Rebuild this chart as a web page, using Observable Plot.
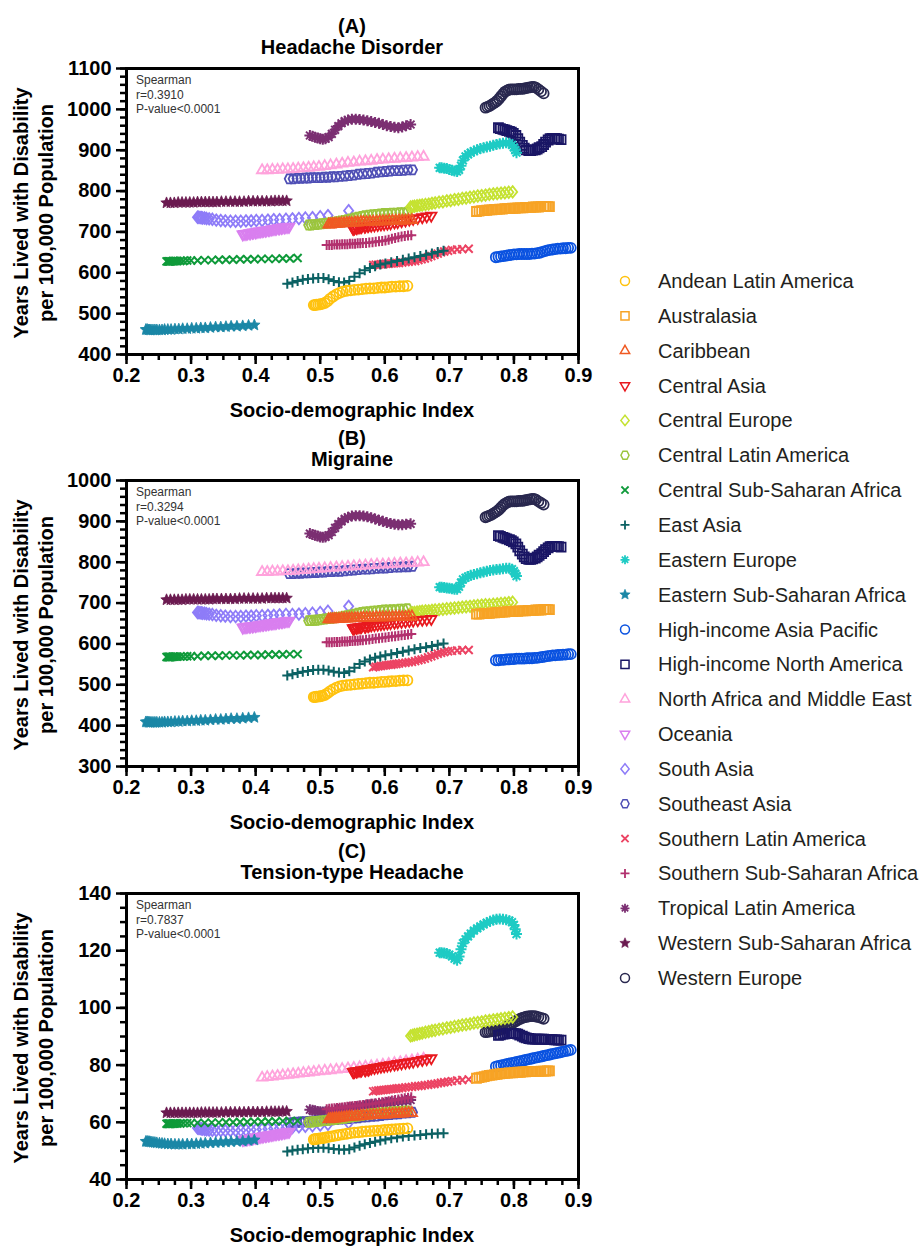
<!DOCTYPE html>
<html><head><meta charset="utf-8">
<script src="https://cdn.jsdelivr.net/npm/d3@7"></script>
<script src="https://cdn.jsdelivr.net/npm/@observablehq/plot@0.6"></script>
<style>
body{margin:0;background:#fff;font-family:"Liberation Sans",Arial,sans-serif;}
#wrap{position:relative;width:921px;height:1250px;overflow:hidden;background:#fff;}
</style></head><body><div id="wrap"></div>
<script>
// ---------- categories ----------
const regionNames = ["Andean Latin America","Australasia","Caribbean","Central Asia","Central Europe","Central Latin America","Central Sub-Saharan Africa","East Asia","Eastern Europe","Eastern Sub-Saharan Africa","High-income Asia Pacific","High-income North America","North Africa and Middle East","Oceania","South Asia","Southeast Asia","Southern Latin America","Southern Sub-Saharan Africa","Tropical Latin America","Western Sub-Saharan Africa","Western Europe"];
const regionColors = ["#FFC20E","#F7A325","#F05A23","#E8191F","#C5E231","#9BC53D","#0F9A3A","#0B6163","#1ECBC4","#1A87A6","#0A52E0","#1A1665","#FFA3DC","#D97FEF","#8E7CF8","#4F4FB5","#EC4363","#B2306E","#7B2F72","#6B1A50","#29284F"];
const regionSymbols = ["circle","square","triangle","triangleDown","diamond","hexagon","times","plus","asterisk","star","circle","square","triangle","triangleDown","diamond","hexagon","times","plus","asterisk","star","circle"];

// ---------- tick labels ----------
const xTicks = [0.2,0.3,0.4,0.5,0.6,0.7,0.8,0.9];
const yTicksHeadache = [400,500,600,700,800,900,1000,1100];
const yTicksMigraine = [300,400,500,600,700,800,900,1000];
const yTicksTTH = [40,60,80,100,120,140];
const panelLetters = ["(A)","(B)","(C)"];
const panelTitles = ["Headache Disorder","Migraine","Tension-type Headache"];
const spearmanR = ["r=0.3910","r=0.3294","r=0.7837"];

// ---------- SDI (1990-2019) ----------
const sdi_andean = [0.490,0.492,0.494,0.497,0.500,0.503,0.507,0.511,0.515,0.520,0.525,0.530,0.535,0.541,0.547,0.553,0.559,0.565,0.571,0.577,0.583,0.589,0.595,0.600,0.606,0.611,0.617,0.623,0.629,0.635];
const sdi_australasia = [0.742,0.746,0.750,0.754,0.758,0.762,0.766,0.770,0.774,0.778,0.782,0.786,0.790,0.794,0.798,0.802,0.806,0.810,0.814,0.818,0.822,0.826,0.830,0.834,0.838,0.842,0.846,0.849,0.852,0.855];
const sdi_caribbean = [0.513,0.516,0.519,0.522,0.525,0.529,0.533,0.537,0.541,0.545,0.549,0.554,0.558,0.563,0.567,0.572,0.577,0.582,0.587,0.592,0.597,0.602,0.607,0.612,0.617,0.622,0.627,0.632,0.637,0.642];
const sdi_centralAsia = [0.575,0.570,0.563,0.557,0.553,0.551,0.551,0.553,0.556,0.560,0.564,0.569,0.574,0.579,0.584,0.589,0.594,0.599,0.604,0.609,0.615,0.620,0.626,0.632,0.638,0.644,0.651,0.658,0.665,0.672];
const sdi_centralEurope = [0.640,0.643,0.646,0.650,0.654,0.658,0.663,0.668,0.673,0.678,0.684,0.690,0.696,0.702,0.708,0.714,0.720,0.726,0.732,0.738,0.744,0.750,0.756,0.762,0.768,0.774,0.780,0.786,0.792,0.798];
const sdi_centralLatAm = [0.482,0.486,0.490,0.494,0.498,0.502,0.507,0.512,0.517,0.522,0.527,0.532,0.537,0.542,0.547,0.553,0.558,0.564,0.569,0.575,0.581,0.587,0.593,0.599,0.605,0.611,0.617,0.623,0.629,0.635];
const sdi_centralSSA = [0.262,0.264,0.265,0.266,0.267,0.268,0.270,0.272,0.274,0.276,0.279,0.283,0.288,0.294,0.300,0.310,0.321,0.332,0.343,0.354,0.365,0.376,0.387,0.398,0.409,0.420,0.431,0.442,0.453,0.465];
const sdi_eastAsia = [0.449,0.457,0.465,0.473,0.481,0.489,0.497,0.505,0.513,0.521,0.529,0.537,0.545,0.553,0.561,0.569,0.577,0.585,0.593,0.601,0.610,0.619,0.628,0.637,0.646,0.655,0.664,0.673,0.682,0.691];
const sdi_easternEurope = [0.685,0.688,0.692,0.696,0.700,0.704,0.708,0.712,0.715,0.718,0.721,0.725,0.729,0.733,0.738,0.743,0.748,0.753,0.758,0.763,0.768,0.773,0.778,0.783,0.788,0.793,0.797,0.800,0.802,0.804];
const sdi_easternSSA = [0.230,0.232,0.234,0.236,0.238,0.241,0.244,0.247,0.251,0.255,0.259,0.264,0.269,0.275,0.281,0.287,0.294,0.301,0.308,0.315,0.322,0.330,0.338,0.346,0.354,0.362,0.371,0.380,0.389,0.398];
const sdi_hiAsiaPacific = [0.772,0.776,0.780,0.784,0.788,0.792,0.796,0.800,0.804,0.808,0.812,0.816,0.820,0.824,0.828,0.832,0.836,0.840,0.844,0.848,0.852,0.856,0.860,0.864,0.868,0.872,0.876,0.880,0.884,0.888];
const sdi_hiNorthAmerica = [0.776,0.779,0.783,0.786,0.789,0.793,0.796,0.799,0.803,0.806,0.809,0.813,0.816,0.819,0.823,0.826,0.829,0.833,0.836,0.839,0.843,0.846,0.849,0.853,0.856,0.859,0.863,0.866,0.869,0.873];
const sdi_nAfricaME = [0.410,0.418,0.426,0.434,0.442,0.450,0.458,0.466,0.474,0.482,0.490,0.498,0.507,0.516,0.525,0.534,0.543,0.552,0.561,0.570,0.579,0.588,0.597,0.606,0.615,0.624,0.633,0.642,0.651,0.660];
const sdi_oceania = [0.380,0.382,0.385,0.387,0.390,0.392,0.395,0.397,0.400,0.402,0.405,0.407,0.410,0.412,0.415,0.417,0.420,0.422,0.425,0.427,0.430,0.432,0.435,0.437,0.440,0.442,0.445,0.447,0.450,0.452];
const sdi_southAsia = [0.310,0.312,0.314,0.316,0.318,0.321,0.324,0.328,0.333,0.339,0.346,0.353,0.361,0.369,0.377,0.385,0.393,0.401,0.410,0.419,0.428,0.437,0.447,0.457,0.467,0.477,0.488,0.500,0.512,0.544];
const sdi_southeastAsia = [0.452,0.458,0.464,0.470,0.476,0.482,0.488,0.494,0.500,0.506,0.512,0.518,0.524,0.531,0.538,0.545,0.552,0.559,0.566,0.573,0.580,0.587,0.594,0.601,0.608,0.615,0.622,0.629,0.636,0.643];
const sdi_southernLatAm = [0.582,0.586,0.590,0.594,0.598,0.602,0.606,0.610,0.614,0.618,0.622,0.627,0.632,0.637,0.642,0.647,0.652,0.657,0.662,0.667,0.672,0.677,0.682,0.687,0.692,0.698,0.704,0.712,0.720,0.730];
const sdi_southernSSA = [0.510,0.514,0.518,0.522,0.526,0.530,0.534,0.538,0.542,0.546,0.550,0.554,0.558,0.562,0.566,0.571,0.576,0.581,0.586,0.591,0.596,0.601,0.606,0.611,0.616,0.621,0.626,0.631,0.636,0.641];
const sdi_tropicalLatAm = [0.484,0.488,0.492,0.496,0.500,0.504,0.508,0.513,0.518,0.523,0.528,0.533,0.538,0.543,0.549,0.555,0.561,0.567,0.573,0.579,0.585,0.591,0.597,0.603,0.609,0.615,0.621,0.627,0.633,0.640];
const sdi_westernSSA = [0.262,0.268,0.274,0.280,0.286,0.292,0.298,0.304,0.310,0.316,0.322,0.328,0.334,0.340,0.347,0.354,0.361,0.368,0.375,0.382,0.389,0.396,0.403,0.410,0.417,0.424,0.430,0.436,0.442,0.448];
const sdi_westernEurope = [0.756,0.759,0.762,0.765,0.768,0.771,0.774,0.777,0.780,0.783,0.786,0.789,0.792,0.795,0.798,0.801,0.804,0.807,0.810,0.813,0.816,0.819,0.822,0.825,0.828,0.831,0.834,0.838,0.842,0.846];

// ---------- (A) Headache disorder YLD ----------
const hd_andean = [521,521,522,522,523,524,526,530,536,542,547,551,554,556,557,558,559,560,561,562,562,563,564,564,565,566,566,567,567,568];
const hd_australasia = [750,751,752,752,753,754,754,755,755,756,756,757,757,757,758,758,759,759,759,760,760,760,761,761,761,762,762,762,762,762];
const hd_caribbean = [718,718,719,719,720,720,721,721,722,722,722,723,723,724,724,724,725,725,725,726,726,726,727,727,727,728,728,728,729,729];
const hd_centralAsia = [716,714,712,710,709,708,708,709,710,711,712,713,714,715,716,717,718,719,720,721,723,724,726,728,730,732,734,736,738,740];
const hd_centralEurope = [761,762,763,764,765,766,767,768,770,771,773,774,776,777,779,780,782,783,785,786,788,789,790,792,793,794,795,796,797,798];
const hd_centralLatAm = [717,717,718,718,719,720,721,722,723,724,725,727,728,730,732,734,736,738,740,741,742,743,744,745,745,746,746,747,747,748];
const hd_centralSSA = [628,628,628,628,628,628,628,629,629,629,629,629,629,630,630,630,631,631,632,632,632,633,633,633,634,634,634,635,635,636];
const hd_eastAsia = [573,576,580,583,585,586,587,587,584,580,577,576,580,590,599,606,612,616,620,623,626,629,632,635,638,641,644,647,651,654];
const hd_easternEurope = [857,857,856,855,853,851,849,848,852,862,875,885,890,894,898,901,904,906,908,910,912,914,916,917,918,917,913,907,900,894];
const hd_easternSSA = [461,461,460,460,460,460,460,460,460,460,461,461,461,462,462,463,463,464,464,465,465,466,467,467,468,469,469,470,471,472];
const hd_hiAsiaPacific = [638,639,640,641,642,643,644,645,645,646,646,646,646,646,647,647,648,649,651,653,655,656,657,658,659,659,660,660,661,661];
const hd_hiNorthAmerica = [955,953,951,950,948,946,944,941,936,928,920,912,905,901,899,899,900,901,903,906,909,914,920,925,928,929,929,928,927,926];
const hd_nAfricaME = [851,851,852,852,853,853,854,855,856,857,858,859,861,863,865,867,869,870,872,873,874,876,877,878,879,880,881,882,883,884];
const hd_oceania = [694,695,695,696,697,697,698,699,699,700,701,701,702,703,703,704,705,705,706,707,707,708,709,709,710,711,711,712,712,713];
const hd_southAsia = [736,736,735,735,734,734,733,732,731,729,728,727,726,726,726,727,727,728,728,729,730,730,731,732,733,734,735,737,740,752];
const hd_southeastAsia = [830,830,831,831,832,832,833,833,833,834,834,835,835,836,837,838,839,841,842,843,844,846,847,848,849,850,850,851,852,852];
const hd_southernLatAm = [619,620,620,621,621,622,622,623,623,624,624,625,626,627,628,629,631,633,635,638,641,644,647,650,652,654,656,657,658,659];
const hd_southernSSA = [668,668,668,669,669,669,670,670,670,671,671,671,672,672,673,673,674,675,676,677,678,679,681,683,685,687,689,690,691,692];
const hd_tropicalLatAm = [936,934,932,930,928,927,928,932,940,950,959,966,971,974,976,976,975,974,972,970,968,966,963,960,958,956,955,957,960,963];
const hd_westernSSA = [771,771,771,772,772,772,772,772,773,773,773,773,773,773,774,774,774,774,774,774,775,775,775,775,775,775,776,776,776,776];
const hd_westernEurope = [1004,1006,1008,1011,1014,1017,1021,1026,1032,1038,1043,1046,1048,1049,1049,1049,1049,1050,1050,1050,1051,1052,1053,1054,1055,1055,1053,1049,1044,1039];

// ---------- (B) Migraine YLD ----------
const mig_andean = [470,470,471,471,472,473,475,479,484,489,493,496,498,499,500,501,502,503,504,505,505,506,507,507,508,509,509,510,511,511];
const mig_australasia = [673,673,674,674,675,675,676,676,677,677,678,678,679,679,679,680,680,681,681,681,682,682,682,683,683,683,684,684,684,684];
const mig_caribbean = [660,660,660,661,661,661,662,662,662,662,663,663,663,663,664,664,664,664,665,665,665,665,665,666,666,666,666,666,667,667];
const mig_centralAsia = [644,642,641,640,639,638,638,639,640,641,642,643,644,645,646,647,648,649,650,651,652,653,654,655,656,657,658,659,660,661];
const mig_centralEurope = [675,676,677,678,679,680,681,681,682,683,684,685,686,687,688,689,690,691,692,693,694,695,696,696,697,698,699,700,701,702];
const mig_centralLatAm = [657,657,658,658,659,660,661,662,663,664,665,666,668,669,671,673,675,677,678,679,680,681,682,683,683,684,684,685,685,686];
const mig_centralSSA = [568,568,568,568,568,568,568,569,569,569,569,569,569,570,570,570,571,571,571,572,572,572,573,573,573,574,574,574,575,575];
const mig_eastAsia = [523,526,529,532,534,536,537,537,535,532,530,529,533,542,551,557,562,566,569,572,575,578,581,584,587,590,592,595,598,601];
const mig_easternEurope = [739,739,738,737,736,735,734,734,740,750,758,762,765,768,770,772,774,776,778,780,781,782,783,784,785,785,783,778,772,766];
const mig_easternSSA = [409,409,408,408,408,408,408,408,408,408,409,409,409,410,410,411,411,412,412,413,413,414,415,415,416,417,417,418,419,420];
const mig_hiAsiaPacific = [560,560,561,561,562,562,563,563,564,564,564,564,565,565,565,566,566,567,568,569,570,571,572,572,573,573,574,574,575,575];
const mig_hiNorthAmerica = [865,863,861,859,857,855,853,850,845,837,828,820,813,809,807,807,808,810,813,817,821,826,831,835,838,839,839,838,838,837];
const mig_nAfricaME = [776,776,777,777,778,778,779,780,781,782,783,784,785,786,787,788,789,790,791,792,793,794,794,795,796,797,797,798,799,800];
const mig_oceania = [640,641,641,642,642,643,643,644,644,645,646,646,647,647,648,648,649,650,650,651,651,652,653,653,654,654,655,656,656,657];
const mig_southAsia = [677,677,676,676,675,675,674,673,672,670,669,668,667,667,667,668,668,669,669,670,670,671,672,672,673,674,675,677,680,692];
const mig_southeastAsia = [772,772,773,773,774,774,775,775,776,776,777,777,778,778,779,780,781,782,783,783,784,785,786,786,787,788,788,789,789,790];
const mig_southernLatAm = [543,544,545,546,547,548,549,549,550,551,552,553,554,555,556,558,560,562,564,567,570,573,576,578,580,582,583,584,585,585];
const mig_southernSSA = [604,604,604,605,605,605,606,606,606,607,607,608,608,609,609,610,611,612,613,614,615,616,617,618,619,620,621,622,623,624];
const mig_tropicalLatAm = [870,868,866,864,862,861,862,866,874,884,893,900,906,910,913,914,914,913,911,909,906,903,900,897,895,893,892,892,893,894];
const mig_westernSSA = [708,708,708,708,708,709,709,709,709,709,709,709,710,710,710,710,710,710,711,711,711,711,711,711,712,712,712,712,712,712];
const mig_westernEurope = [910,912,914,916,919,922,925,929,934,939,943,946,948,949,949,949,949,950,950,950,951,952,953,954,955,955,953,949,945,941];

// ---------- (C) Tension-type headache YLD ----------
const tth_andean = [54.0,54.1,54.2,54.3,54.4,54.5,54.6,54.8,55.0,55.2,55.4,55.6,55.8,56.0,56.2,56.4,56.5,56.7,56.8,56.9,57.0,57.1,57.2,57.3,57.4,57.5,57.6,57.7,57.8,57.9];
const tth_australasia = [75.4,75.6,75.8,76.0,76.2,76.4,76.5,76.7,76.8,76.9,77.0,77.1,77.2,77.3,77.3,77.4,77.5,77.5,77.6,77.6,77.7,77.7,77.8,77.8,77.8,77.9,77.9,77.9,78.0,78.0];
const tth_caribbean = [61.0,61.1,61.2,61.3,61.4,61.5,61.6,61.7,61.8,61.9,62.0,62.0,62.1,62.2,62.3,62.3,62.4,62.5,62.5,62.6,62.7,62.7,62.8,62.9,62.9,63.0,63.0,63.1,63.2,63.2];
const tth_centralAsia = [78.4,78.2,78.0,77.8,77.7,77.6,77.6,77.7,77.8,78.0,78.2,78.4,78.6,78.8,79.0,79.2,79.4,79.6,79.8,80.0,80.2,80.4,80.6,80.8,81.0,81.2,81.5,81.8,82.1,82.4];
const tth_centralEurope = [90.2,90.4,90.6,90.8,91.0,91.2,91.5,91.7,92.0,92.2,92.5,92.7,93.0,93.2,93.5,93.7,94.0,94.2,94.4,94.7,94.9,95.1,95.4,95.6,95.8,96.0,96.2,96.4,96.6,96.8];
const tth_centralLatAm = [60.0,60.1,60.2,60.3,60.4,60.5,60.6,60.7,60.9,61.0,61.1,61.3,61.4,61.6,61.8,62.0,62.2,62.4,62.6,62.8,63.0,63.1,63.3,63.4,63.5,63.6,63.7,63.8,63.9,64.0];
const tth_centralSSA = [59.5,59.5,59.5,59.5,59.5,59.5,59.5,59.6,59.6,59.6,59.6,59.6,59.7,59.7,59.7,59.8,59.8,59.9,59.9,60.0,60.0,60.1,60.1,60.2,60.2,60.3,60.3,60.4,60.4,60.5];
const tth_eastAsia = [49.8,50.1,50.4,50.6,50.8,51.0,51.1,51.1,50.9,50.7,50.5,50.4,50.6,51.2,51.8,52.3,52.8,53.2,53.6,54.0,54.4,54.7,55.0,55.2,55.4,55.6,55.8,56.0,56.1,56.2];
const tth_easternEurope = [119.3,119.3,119.2,119.0,118.6,118.0,117.2,116.7,118.0,120.5,122.6,124.0,125.0,126.0,127.0,127.8,128.5,129.2,129.8,130.3,130.7,131.0,131.1,131.0,130.8,130.5,130.0,129.0,127.5,125.8];
const tth_easternSSA = [53.3,53.3,53.2,53.2,53.1,53.0,52.9,52.8,52.7,52.6,52.5,52.4,52.4,52.3,52.3,52.3,52.4,52.4,52.5,52.6,52.7,52.8,52.9,53.0,53.1,53.2,53.3,53.4,53.6,53.8];
const tth_hiAsiaPacific = [79.5,79.7,79.9,80.1,80.3,80.5,80.7,80.9,81.1,81.3,81.5,81.7,81.9,82.1,82.3,82.5,82.7,82.9,83.1,83.3,83.5,83.7,83.9,84.1,84.3,84.5,84.7,84.9,85.1,85.3];
const tth_hiNorthAmerica = [90.4,90.6,90.8,90.9,91.0,91.1,91.1,91.1,91.0,90.8,90.5,90.1,89.8,89.5,89.3,89.2,89.1,89.1,89.1,89.1,89.1,89.1,89.0,89.0,88.9,88.9,88.8,88.8,88.7,88.7];
const tth_nAfricaME = [75.6,75.8,76.0,76.2,76.4,76.6,76.8,77.0,77.2,77.4,77.6,77.8,78.0,78.2,78.4,78.6,78.8,79.0,79.2,79.4,79.6,79.8,80.1,80.4,80.7,81.0,81.3,81.6,81.9,82.2];
const tth_oceania = [53.8,53.9,54.0,54.1,54.2,54.3,54.4,54.5,54.6,54.7,54.8,54.9,55.0,55.1,55.2,55.3,55.4,55.5,55.6,55.7,55.8,55.9,56.0,56.1,56.2,56.3,56.4,56.5,56.6,56.7];
const tth_southAsia = [58.0,57.9,57.8,57.7,57.6,57.5,57.4,57.3,57.2,57.1,57.1,57.1,57.1,57.2,57.2,57.3,57.4,57.5,57.6,57.7,57.8,57.9,58.0,58.2,58.4,58.6,58.8,59.0,59.3,59.8];
const tth_southeastAsia = [59.8,59.9,60.0,60.1,60.2,60.3,60.4,60.5,60.6,60.7,60.8,60.9,61.0,61.1,61.2,61.3,61.5,61.6,61.8,61.9,62.1,62.2,62.4,62.6,62.7,62.9,63.0,63.2,63.3,63.5];
const tth_southernLatAm = [70.8,71.0,71.1,71.2,71.3,71.4,71.5,71.6,71.7,71.8,71.9,72.0,72.2,72.3,72.4,72.6,72.7,72.8,73.0,73.1,73.3,73.4,73.6,73.8,74.0,74.2,74.4,74.6,74.8,75.0];
const tth_southernSSA = [64.6,64.7,64.8,64.9,65.0,65.1,65.2,65.3,65.4,65.5,65.6,65.7,65.8,65.9,66.0,66.2,66.3,66.5,66.6,66.8,67.0,67.2,67.4,67.6,67.8,68.0,68.2,68.4,68.6,68.8];
const tth_tropicalLatAm = [64.4,64.2,64.0,63.8,63.7,63.6,63.7,63.9,64.1,64.3,64.5,64.7,64.9,65.1,65.3,65.5,65.7,65.9,66.1,66.3,66.4,66.6,66.7,66.9,67.0,67.2,67.3,67.5,67.6,67.8];
const tth_westernSSA = [63.3,63.3,63.3,63.3,63.3,63.3,63.3,63.3,63.3,63.4,63.4,63.4,63.4,63.4,63.4,63.5,63.5,63.5,63.5,63.5,63.6,63.6,63.6,63.6,63.7,63.7,63.7,63.7,63.8,63.8];
const tth_westernEurope = [91.5,91.6,91.7,91.8,91.9,92.0,92.1,92.3,92.5,92.8,93.1,93.5,93.9,94.3,94.7,95.1,95.5,95.9,96.2,96.5,96.7,96.9,97.0,97.1,97.1,97.1,97.0,96.8,96.5,96.2];

// ---------- assemble ----------
const sdiAll = [sdi_andean,sdi_australasia,sdi_caribbean,sdi_centralAsia,sdi_centralEurope,sdi_centralLatAm,sdi_centralSSA,sdi_eastAsia,sdi_easternEurope,sdi_easternSSA,sdi_hiAsiaPacific,sdi_hiNorthAmerica,sdi_nAfricaME,sdi_oceania,sdi_southAsia,sdi_southeastAsia,sdi_southernLatAm,sdi_southernSSA,sdi_tropicalLatAm,sdi_westernSSA,sdi_westernEurope];
const hdAll = [hd_andean,hd_australasia,hd_caribbean,hd_centralAsia,hd_centralEurope,hd_centralLatAm,hd_centralSSA,hd_eastAsia,hd_easternEurope,hd_easternSSA,hd_hiAsiaPacific,hd_hiNorthAmerica,hd_nAfricaME,hd_oceania,hd_southAsia,hd_southeastAsia,hd_southernLatAm,hd_southernSSA,hd_tropicalLatAm,hd_westernSSA,hd_westernEurope];
const migAll = [mig_andean,mig_australasia,mig_caribbean,mig_centralAsia,mig_centralEurope,mig_centralLatAm,mig_centralSSA,mig_eastAsia,mig_easternEurope,mig_easternSSA,mig_hiAsiaPacific,mig_hiNorthAmerica,mig_nAfricaME,mig_oceania,mig_southAsia,mig_southeastAsia,mig_southernLatAm,mig_southernSSA,mig_tropicalLatAm,mig_westernSSA,mig_westernEurope];
const tthAll = [tth_andean,tth_australasia,tth_caribbean,tth_centralAsia,tth_centralEurope,tth_centralLatAm,tth_centralSSA,tth_eastAsia,tth_easternEurope,tth_easternSSA,tth_hiAsiaPacific,tth_hiNorthAmerica,tth_nAfricaME,tth_oceania,tth_southAsia,tth_southeastAsia,tth_southernLatAm,tth_southernSSA,tth_tropicalLatAm,tth_westernSSA,tth_westernEurope];

// ---------- symbols ----------
const SQ3 = Math.sqrt(3);
function mk(fn){ return {draw(c, size){ fn(c, Math.sqrt(size/Math.PI)); }}; }
const SYM = {
  circle: mk((c,r)=>{ c.moveTo(r,0); c.arc(0,0,r,0,2*Math.PI); }),
  square: mk((c,r)=>{ const s=r*0.9; c.moveTo(-s,-s); c.lineTo(s,-s); c.lineTo(s,s); c.lineTo(-s,s); c.closePath(); }),
  triangle: mk((c,r)=>{ const R=r*1.2; c.moveTo(0,-R); c.lineTo(R*SQ3/2,R/2); c.lineTo(-R*SQ3/2,R/2); c.closePath(); }),
  triangleDown: mk((c,r)=>{ const R=r*1.2; c.moveTo(0,R); c.lineTo(R*SQ3/2,-R/2); c.lineTo(-R*SQ3/2,-R/2); c.closePath(); }),
  diamond: mk((c,r)=>{ const R=r*1.15; c.moveTo(0,-R); c.lineTo(R*0.8,0); c.lineTo(0,R); c.lineTo(-R*0.8,0); c.closePath(); }),
  hexagon: mk((c,r)=>{ for(let k=0;k<6;k++){ const a=k*Math.PI/3; const px=r*0.9*Math.cos(a), py=r*Math.sin(a)*1.05; if(k===0) c.moveTo(px,py); else c.lineTo(px,py);} c.closePath(); }),
  times: mk((c,r)=>{ const s=r*0.8; c.moveTo(-s,-s); c.lineTo(s,s); c.moveTo(s,-s); c.lineTo(-s,s); }),
  plus: mk((c,r)=>{ c.moveTo(-r,0); c.lineTo(r,0); c.moveTo(0,-r); c.lineTo(0,r); }),
  asterisk: mk((c,r)=>{ for(let k=0;k<4;k++){ const a=k*Math.PI/4; const dx=r*Math.cos(a), dy=r*Math.sin(a); c.moveTo(-dx,-dy); c.lineTo(dx,dy);} }),
  star: mk((c,r)=>{ const R=r*1.2, ri=R*0.45; for(let k=0;k<10;k++){ const a=-Math.PI/2+k*Math.PI/5; const rr=(k%2===0)?R:ri; const px=rr*Math.cos(a), py=rr*Math.sin(a); if(k===0) c.moveTo(px,py); else c.lineTo(px,py);} c.closePath(); })
};
const lineOnly = new Set(["times","plus","asterisk"]);
function strokeW(sym){ return lineOnly.has(sym) ? 2 : (sym === "star" ? 0.8 : 1.8); }

// ---------- panels ----------
const FONT = "'Liberation Sans', Arial, Helvetica, sans-serif";
const panels = [
  {values: hdAll, domain:[400,1100], major: yTicksHeadache, minorStep: 20, top: 0},
  {values: migAll, domain:[300,1000], major: yTicksMigraine, minorStep: 20, top: 412},
  {values: tthAll, domain:[40,140], major: yTicksTTH, minorStep: 5, top: 825}
];
const W = 600, H = 420, ML = 126, MR = 22, MT = 68, MB = 66;
const wrap = document.getElementById("wrap");
const xMinor = d3.range(0, 29).map(k => +(0.2 + k*0.025).toFixed(3));
const blank = () => "";

panels.forEach((p, pi) => {
  const marks = [];
  for (let k = regionNames.length - 1; k >= 0; k--) {
    const rows = sdiAll[k].map((s, i) => ({sdi: s, v: p.values[k][i]}));
    const sym = regionSymbols[k];
    const filled = sym === "star";
    marks.push(Plot.dot(rows, {
      x: "sdi", y: "v", r: sym === "asterisk" ? 5.5 : 5,
      symbol: SYM[sym],
      stroke: regionColors[k],
      fill: filled ? regionColors[k] : "none",
      strokeWidth: strokeW(sym)
    }));
  }
  const yMinor = d3.range(p.domain[0], p.domain[1] + 0.001, p.minorStep);
  marks.push(
    Plot.frame({stroke: "#000", strokeWidth: 3}),
    // tick marks (library axes, blank labels)
    Plot.axisX({ticks: xMinor, tickSize: 6, strokeWidth: 2.5, tickFormat: blank}),
    Plot.axisX({ticks: xTicks, tickSize: 10, strokeWidth: 2.5, tickFormat: blank}),
    Plot.axisY({ticks: yMinor, tickSize: 6, strokeWidth: 2.5, tickFormat: blank}),
    Plot.axisY({ticks: p.major, tickSize: 10, strokeWidth: 2.5, tickFormat: blank}),
    // tick labels
    Plot.axisX({ticks: xTicks, tickSize: 0, tickPadding: 13, fontSize: 20, fontWeight: "bold", tickFormat: d => d.toFixed(1), label: null}),
    Plot.axisY({ticks: p.major, tickSize: 0, tickPadding: 15, fontSize: 20, fontWeight: "bold", tickFormat: d => String(d), label: null})
  );
  const chart = Plot.plot({
    width: W, height: H,
    marginLeft: ML, marginRight: MR, marginTop: MT, marginBottom: MB,
    x: {domain: [0.2, 0.9], label: null},
    y: {domain: p.domain, label: null},
    style: {fontFamily: FONT, background: "transparent", overflow: "visible", color: "#000"},
    marks
  });
  chart.style.position = "absolute";
  chart.style.left = "0px";
  chart.style.top = p.top + "px";
  wrap.appendChild(chart);

  const svg = d3.select(chart);
  const cx = (ML + (W - MR)) / 2;
  const addText = (x, y, txt, opts = {}) => svg.append("text")
    .attr("x", x).attr("y", y)
    .attr("text-anchor", opts.anchor || "middle")
    .attr("dominant-baseline", "central")
    .attr("transform", opts.transform || null)
    .style("font-family", FONT)
    .style("font-size", (opts.size || 20) + "px")
    .style("font-weight", opts.weight || "bold")
    .style("fill", opts.fill || "#000")
    .text(txt);
  addText(cx, 26, panelLetters[pi]);
  addText(cx, 47, panelTitles[pi]);
  addText(cx, 410, "Socio-demographic Index");
  const cy = (MT + (H - MB)) / 2 + 2;
  addText(0, 0, "Years Lived with Disability", {transform: `translate(21,${cy}) rotate(-90)`});
  addText(0, 0, "per 100,000 Population", {transform: `translate(46,${cy}) rotate(-90)`});
  addText(136, MT + 12, "Spearman", {anchor: "start", size: 12, weight: "normal", fill: "#333"});
  addText(136, MT + 26.5, spearmanR[pi], {anchor: "start", size: 12, weight: "normal", fill: "#333"});
  addText(136, MT + 41, "P-value<0.0001", {anchor: "start", size: 12, weight: "normal", fill: "#333"});
});

// ---------- legend ----------
const leg = d3.select(wrap).append("svg")
  .attr("width", 321).attr("height", 760)
  .style("position", "absolute").style("left", "600px").style("top", "250px").style("overflow", "visible");
regionNames.forEach((name, k) => {
  const y = 31 + k * 34.85;
  const sym = regionSymbols[k];
  const filled = sym === "star";
  const path = d3.path();
  SYM[sym].draw(path, Math.PI * 4.5 * 4.5);
  leg.append("path").attr("d", path.toString())
    .attr("transform", `translate(25,${y})`)
    .attr("fill", filled ? regionColors[k] : "none")
    .attr("stroke", regionColors[k])
    .attr("stroke-width", lineOnly.has(sym) ? 1.8 : (filled ? 0.6 : 1.5));
  leg.append("text").attr("x", 58).attr("y", y)
    .attr("dominant-baseline", "central")
    .style("font-family", FONT).style("font-size", "20px").style("fill", "#231f20")
    .text(name);
});
</script>
</body></html>
